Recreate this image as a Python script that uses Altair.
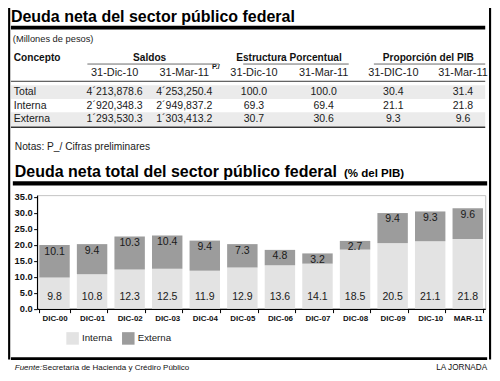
import altair as alt
import pandas as pd

# ---------------- data ----------------
categorias = ["DIC-00", "DIC-01", "DIC-02", "DIC-03", "DIC-04", "DIC-05",
              "DIC-06", "DIC-07", "DIC-08", "DIC-09", "DIC-10", "MAR-11"]
interna = [9.8, 10.8, 12.3, 12.5, 11.9, 12.9, 13.6, 14.1, 18.5, 20.5, 21.1, 21.8]
externa = [10.1, 9.4, 10.3, 10.4, 9.4, 7.3, 4.8, 3.2, 2.7, 9.4, 9.3, 9.6]
tipos = ["Interna", "Externa"]

conceptos = ["Total", "Interna", "Externa"]
saldos_dic10 = [4213878.6, 2920348.3, 1293530.3]
saldos_mar11 = [4253250.4, 2949837.2, 1303413.2]
estr_dic10 = [100.0, 69.3, 30.7]
estr_mar11 = [100.0, 69.4, 30.6]
pib_dic10 = [30.4, 21.1, 9.3]
pib_mar11 = [31.4, 21.8, 9.6]

columnas = ["concepto", "s1", "s2", "e1", "e2", "p1", "p2"]
grupos = ["Saldos", "Estructura Porcentual", "Proporción del PIB"]
subtitulos = ["31-Dic-10", "31-Mar-11", "31-Dic-10", "31-Mar-11", "31-DIC-10", "31-Mar-11"]

# ---------------- layout helpers ----------------
W, H = 484, 365
SX, SY = W / 500, H / 381
S = (SX + SY) / 2
REF_L, REF_R, REF_B = 30, 493, 314
YMAX = 35.5
PPU = 117 / 35
REF_T = REF_B - YMAX * PPU
padL = REF_L * SX
padT = REF_T * SY
PW = (REF_R - REF_L) * SX
PH = (REF_B - REF_T) * SY
padR = W - padL - PW
padB = H - padT - PH


def gx(r):
    return r * SX - padL


def gy(r):
    return r * SY - padT


FN = "Liberation Sans, Arial, sans-serif"   # stands in for a condensed face
NF = 0.84                                    # narrow-size factor
FB = "Liberation Sans, Arial, sans-serif"
one = pd.DataFrame({"k": [0]})


def hrule(x1, x2, y, w, color):
    return alt.Chart(one).mark_rule(color=color, strokeWidth=w * S).encode(
        x=alt.value(gx(x1)), x2=alt.value(gx(x2)), y=alt.value(gy(y)))


def vrule(x, y1, y2, w, color):
    return alt.Chart(one).mark_rule(color=color, strokeWidth=w * S).encode(
        x=alt.value(gx(x)), y=alt.value(gy(y1)), y2=alt.value(gy(y2)))


def txt(s, x, y, size, font, weight="normal", style="normal", align="left",
        baseline="alphabetic", color="#111"):
    return alt.Chart(one).mark_text(
        text=s, font=font, fontSize=size * S, fontWeight=weight, fontStyle=style,
        align=align, baseline=baseline, color=color).encode(
        x=alt.value(gx(x)), y=alt.value(gy(y)))


def fmt_saldo(v):
    p = f"{v:,.1f}".split(",")
    return p[0] + "´" + ",".join(p[1:])


# ---------------- table ----------------
recs = []
for i, c in enumerate(conceptos):
    recs.append(dict(row=c, col="concepto", label=c))
    recs.append(dict(row=c, col="s1", label=fmt_saldo(saldos_dic10[i])))
    recs.append(dict(row=c, col="s2", label=fmt_saldo(saldos_mar11[i])))
    recs.append(dict(row=c, col="e1", label=f"{estr_dic10[i]:.1f}"))
    recs.append(dict(row=c, col="e2", label=f"{estr_mar11[i]:.1f}"))
    recs.append(dict(row=c, col="p1", label=f"{pib_dic10[i]:.1f}"))
    recs.append(dict(row=c, col="p2", label=f"{pib_mar11[i]:.1f}"))
df_tbl = pd.DataFrame(recs)

STEP = (472 - 110.5) / 5
xs_tbl = alt.Scale(type="point", domain=columnas,
                   range=[gx(110.5 - STEP), gx(470)], padding=0)
ys_tbl = alt.Scale(type="point", domain=conceptos,
                   range=[gy(87.8), gy(116.2)], padding=0)
XT = alt.X("col:N", scale=xs_tbl, axis=None)
YT = alt.Y("row:N", scale=ys_tbl, axis=None)

shade = alt.Chart(pd.DataFrame({"row": ["Total", "Externa"]})).mark_rule(
    color="#ebebeb", strokeWidth=14.5 * SY).encode(
    y=YT, x=alt.value(gx(3)), x2=alt.value(gx(493)))

cells_left = alt.Chart(df_tbl).transform_filter(alt.datum.col == "concepto").mark_text(
    font=FN, fontSize=13 * NF * S, align="left", baseline="middle", color="#1a1a1a",
    dx=(6 - (110.5 - STEP)) * SX).encode(x=XT, y=YT, text="label:N")
cells_num = alt.Chart(df_tbl).transform_filter(alt.datum.col != "concepto").mark_text(
    font=FN, fontSize=13 * NF * S, align="center", baseline="middle", color="#1a1a1a").encode(
    x=XT, y=YT, text="label:N")

df_grp = pd.DataFrame({"col": ["s1", "e1", "p1"], "label": grupos})
grp_hdr = alt.Chart(df_grp).mark_text(
    font=FN, fontSize=12.5 * NF * S, fontWeight="bold", align="center", baseline="middle",
    color="#111", dx=STEP / 2 * SX).encode(x=XT, y=alt.value(gy(52)), text="label:N")
con_hdr = alt.Chart(pd.DataFrame({"col": ["concepto"], "label": ["Concepto"]})).mark_text(
    font=FN, fontSize=12.5 * NF * S, fontWeight="bold", align="left", baseline="middle",
    color="#111", dx=(6 - (110.5 - STEP)) * SX).encode(x=XT, y=alt.value(gy(52)), text="label:N")
df_sub = pd.DataFrame({"col": columnas[1:], "label": subtitulos})
sub_hdr = alt.Chart(df_sub).mark_text(
    font=FN, fontSize=13.5 * NF * S, align="center", baseline="middle", color="#1a1a1a").encode(
    x=XT, y=alt.value(gy(68)), text="label:N")
sup_hdr = alt.Chart(pd.DataFrame({"col": ["s2"], "label": ["P./"]})).mark_text(
    font=FN, fontSize=7.5 * S, fontWeight="bold", align="left", baseline="middle",
    color="#111", dx=28.5 * SX).encode(x=XT, y=alt.value(gy(61.5)), text="label:N")

table_group = alt.layer(shade, cells_left, cells_num, grp_hdr, con_hdr, sub_hdr, sup_hdr)

# ---------------- bars ----------------
rb = []
for c, a, b in zip(categorias, interna, externa):
    rb.append(dict(cat=c, tipo="Interna", value=a, ord=0))
    rb.append(dict(cat=c, tipo="Externa", value=b, ord=1))
df_bars = pd.DataFrame(rb)
df_lab = pd.DataFrame({"cat": categorias, "interna": interna, "externa": externa})
df_lab["total"] = df_lab["interna"] + df_lab["externa"]

xsc = alt.Scale(domain=categorias, paddingInner=0.19, paddingOuter=0.06)
ysc = alt.Scale(domain=[0, YMAX], nice=False, zero=True)
xaxis = alt.Axis(labelFont=FN, labelFontWeight="bold", labelFontSize=9.8 * NF * S,
                 labelColor="#111", tickSize=4 * SY, tickBand="extent", labelPadding=1.5,
                 labelAngle=0, domainColor="#000", tickColor="#000", domainWidth=1.2,
                 tickWidth=1, grid=False, title=None)
yaxis = alt.Axis(values=[0, 5, 10, 15, 20, 25, 30, 35], format=".1f", labelFont=FN,
                 labelFontWeight="bold", labelFontSize=10.5 * 0.92 * S, labelColor="#111",
                 tickSize=3.5 * SX, labelPadding=1.5, domainColor="#000",
                 tickColor="#000", domainWidth=1.2, tickWidth=1, grid=False, title=None)
XB = alt.X("cat:N", sort=categorias, scale=xsc, axis=xaxis, title=None)

bars = alt.Chart(df_bars).mark_bar().encode(
    x=XB,
    y=alt.Y("value:Q", stack="zero", scale=ysc, axis=yaxis, title=None),
    color=alt.Color("tipo:N", scale=alt.Scale(domain=tipos, range=["#e3e3e3", "#9c9c9c"]),
                    legend=alt.Legend(orient="none", legendX=gx(60), legendY=gy(338),
                                      direction="horizontal", title=None,
                                      symbolType="square", symbolSize=(13 * S) ** 2,
                                      symbolStrokeWidth=0, symbolOpacity=1,
                                      labelFont=FN, labelFontSize=12 * NF * S,
                                      labelColor="#1a1a1a", labelOffset=3 * SX,
                                      columnPadding=9 * SX, padding=0)),
    order=alt.Order("ord:Q"),
)
lab_int = alt.Chart(df_lab).mark_text(
    font=FN, fontSize=13 * NF * S, baseline="middle", color="#1a1a1a", dy=-12 * SY).encode(
    x=XB, y=alt.YDatum(0, scale=ysc, axis=yaxis, title=None, type="quantitative"),
    text=alt.Text("interna:Q", format=".1f"))
lab_ext = alt.Chart(df_lab).mark_text(
    font=FN, fontSize=13 * NF * S, baseline="top", color="#1a1a1a", dy=1.5 * SY).encode(
    x=XB, y=alt.Y("total:Q", scale=ysc, axis=yaxis, title=None),
    text=alt.Text("externa:Q", format=".1f"))

bars_group = alt.layer(bars, lab_int, lab_ext)

# ---------------- decorations ----------------
decor = [
    vrule(1.2, 0, 367, 2.2, "#000"),
    vrule(498, 0, 367, 2.2, "#000"),
    txt("Deuda neta del sector público federal", 3, 14.3, 16.6, FB, weight="bold", color="#000"),
    hrule(3, 493, 20.5, 4, "#000"),
    txt("(Millones de pesos)", 5, 36, 11.5 * NF, FN, color="#222"),
    hrule(82, 218, 58.5, 1, "#666"),
    hrule(243, 352, 58.5, 1, "#666"),
    hrule(378, 493, 58.5, 1, "#666"),
    hrule(3, 493, 76.5, 1, "#333"),
    hrule(3, 493, 124.5, 1.5, "#333"),
    txt("Notas: P_/ Cifras preliminares", 7, 145, 12.6 * NF, FN, baseline="middle", color="#1a1a1a"),
    txt("Deuda neta total del sector público federal", 7, 176.7, 16.6, FB, weight="bold", color="#000"),
    txt("(% del PIB)", 347, 176.7, 12, FB, weight="bold", color="#000"),
    hrule(5, 495, 183, 4.5, "#000"),
    hrule(3, 495, 366, 3, "#000"),
    txt("Fuente:", 7, 378, 8.3, FB, style="italic", color="#111"),
    txt("Secretaría de Hacienda y Crédiro Público", 35.5, 378, 8.3, FB, color="#111"),
    txt("LA JORNADA", 495, 378, 8.5, FB, align="right", color="#111"),
]

chart = alt.layer(table_group, bars_group, *decor).resolve_scale(
    x="independent", y="independent"
).properties(
    width=PW, height=PH,
    padding={"left": padL, "top": padT, "right": padR, "bottom": padB},
    autosize=alt.AutoSizeParams(type="none"),
    background="white",
).configure_view(stroke="#c4c4c4", strokeWidth=1)

chart.save("out.html", embed_options={"renderer": "svg", "actions": False})
